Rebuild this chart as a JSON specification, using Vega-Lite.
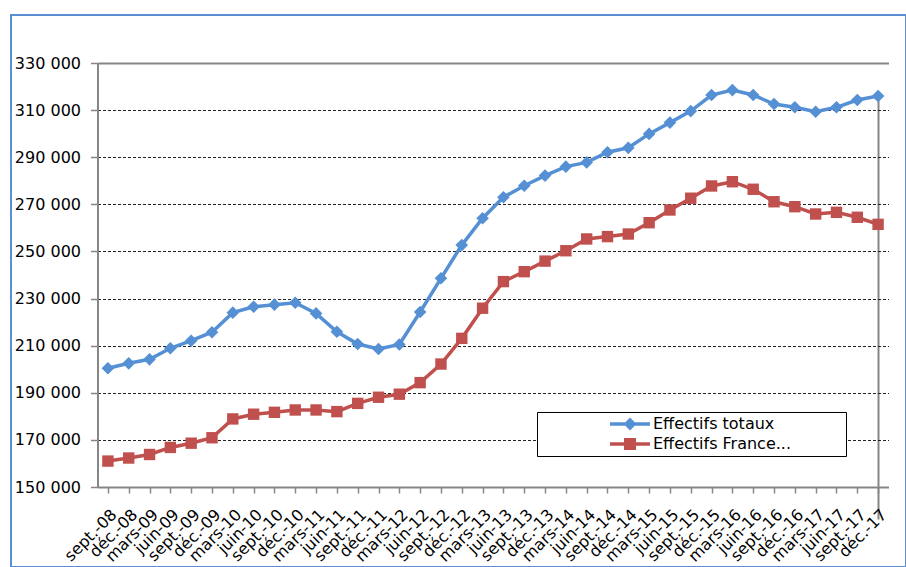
{
  "$schema": "https://vega.github.io/schema/vega-lite/v6.json",
  "autosize": {"type": "none"},
  "padding": {"left": 11, "top": 15, "right": 0, "bottom": 0},
  "width": 895,
  "height": 552,
  "background": "white",
  "config": {
    "font": "DejaVu Sans",
    "view": {"stroke": "#5B8FD5", "strokeWidth": 2}
  },
  "data": {
    "values": [
      {"mois": "sept.-08", "serie": "Effectifs totaux", "effectif": 200400},
      {"mois": "déc.-08", "serie": "Effectifs totaux", "effectif": 202500},
      {"mois": "mars-09", "serie": "Effectifs totaux", "effectif": 204200},
      {"mois": "juin-09", "serie": "Effectifs totaux", "effectif": 208900},
      {"mois": "sept.-09", "serie": "Effectifs totaux", "effectif": 212100},
      {"mois": "déc.-09", "serie": "Effectifs totaux", "effectif": 215700},
      {"mois": "mars-10", "serie": "Effectifs totaux", "effectif": 224000},
      {"mois": "juin-10", "serie": "Effectifs totaux", "effectif": 226500},
      {"mois": "sept.-10", "serie": "Effectifs totaux", "effectif": 227400},
      {"mois": "déc.-10", "serie": "Effectifs totaux", "effectif": 228200},
      {"mois": "mars-11", "serie": "Effectifs totaux", "effectif": 223700},
      {"mois": "juin-11", "serie": "Effectifs totaux", "effectif": 215900},
      {"mois": "sept.-11", "serie": "Effectifs totaux", "effectif": 210700},
      {"mois": "déc.-11", "serie": "Effectifs totaux", "effectif": 208600},
      {"mois": "mars-12", "serie": "Effectifs totaux", "effectif": 210500},
      {"mois": "juin-12", "serie": "Effectifs totaux", "effectif": 224300},
      {"mois": "sept.-12", "serie": "Effectifs totaux", "effectif": 238600},
      {"mois": "déc.-12", "serie": "Effectifs totaux", "effectif": 252700},
      {"mois": "mars-13", "serie": "Effectifs totaux", "effectif": 264100},
      {"mois": "juin-13", "serie": "Effectifs totaux", "effectif": 273000},
      {"mois": "sept.-13", "serie": "Effectifs totaux", "effectif": 277900},
      {"mois": "déc.-13", "serie": "Effectifs totaux", "effectif": 282200},
      {"mois": "mars-14", "serie": "Effectifs totaux", "effectif": 286000},
      {"mois": "juin-14", "serie": "Effectifs totaux", "effectif": 287800},
      {"mois": "sept.-14", "serie": "Effectifs totaux", "effectif": 292100},
      {"mois": "déc.-14", "serie": "Effectifs totaux", "effectif": 294000},
      {"mois": "mars-15", "serie": "Effectifs totaux", "effectif": 299900},
      {"mois": "juin-15", "serie": "Effectifs totaux", "effectif": 304700},
      {"mois": "sept.-15", "serie": "Effectifs totaux", "effectif": 309600},
      {"mois": "déc.-15", "serie": "Effectifs totaux", "effectif": 316400},
      {"mois": "mars-16", "serie": "Effectifs totaux", "effectif": 318500},
      {"mois": "juin-16", "serie": "Effectifs totaux", "effectif": 316400},
      {"mois": "sept.-16", "serie": "Effectifs totaux", "effectif": 312600},
      {"mois": "déc.-16", "serie": "Effectifs totaux", "effectif": 311200},
      {"mois": "mars-17", "serie": "Effectifs totaux", "effectif": 309300},
      {"mois": "juin-17", "serie": "Effectifs totaux", "effectif": 311200},
      {"mois": "sept.-17", "serie": "Effectifs totaux", "effectif": 314300},
      {"mois": "déc.-17", "serie": "Effectifs totaux", "effectif": 316000},
      {"mois": "sept.-08", "serie": "Effectifs France...", "effectif": 161000},
      {"mois": "déc.-08", "serie": "Effectifs France...", "effectif": 162300},
      {"mois": "mars-09", "serie": "Effectifs France...", "effectif": 163800},
      {"mois": "juin-09", "serie": "Effectifs France...", "effectif": 166800},
      {"mois": "sept.-09", "serie": "Effectifs France...", "effectif": 168600},
      {"mois": "déc.-09", "serie": "Effectifs France...", "effectif": 170900},
      {"mois": "mars-10", "serie": "Effectifs France...", "effectif": 178900},
      {"mois": "juin-10", "serie": "Effectifs France...", "effectif": 180900},
      {"mois": "sept.-10", "serie": "Effectifs France...", "effectif": 181700},
      {"mois": "déc.-10", "serie": "Effectifs France...", "effectif": 182700},
      {"mois": "mars-11", "serie": "Effectifs France...", "effectif": 182700},
      {"mois": "juin-11", "serie": "Effectifs France...", "effectif": 182000},
      {"mois": "sept.-11", "serie": "Effectifs France...", "effectif": 185500},
      {"mois": "déc.-11", "serie": "Effectifs France...", "effectif": 188100},
      {"mois": "mars-12", "serie": "Effectifs France...", "effectif": 189400},
      {"mois": "juin-12", "serie": "Effectifs France...", "effectif": 194300},
      {"mois": "sept.-12", "serie": "Effectifs France...", "effectif": 202200},
      {"mois": "déc.-12", "serie": "Effectifs France...", "effectif": 213100},
      {"mois": "mars-13", "serie": "Effectifs France...", "effectif": 225900},
      {"mois": "juin-13", "serie": "Effectifs France...", "effectif": 237200},
      {"mois": "sept.-13", "serie": "Effectifs France...", "effectif": 241400},
      {"mois": "déc.-13", "serie": "Effectifs France...", "effectif": 245900},
      {"mois": "mars-14", "serie": "Effectifs France...", "effectif": 250300},
      {"mois": "juin-14", "serie": "Effectifs France...", "effectif": 255300},
      {"mois": "sept.-14", "serie": "Effectifs France...", "effectif": 256300},
      {"mois": "déc.-14", "serie": "Effectifs France...", "effectif": 257400},
      {"mois": "mars-15", "serie": "Effectifs France...", "effectif": 262200},
      {"mois": "juin-15", "serie": "Effectifs France...", "effectif": 267600},
      {"mois": "sept.-15", "serie": "Effectifs France...", "effectif": 272600},
      {"mois": "déc.-15", "serie": "Effectifs France...", "effectif": 277800},
      {"mois": "mars-16", "serie": "Effectifs France...", "effectif": 279600},
      {"mois": "juin-16", "serie": "Effectifs France...", "effectif": 276400},
      {"mois": "sept.-16", "serie": "Effectifs France...", "effectif": 271100},
      {"mois": "déc.-16", "serie": "Effectifs France...", "effectif": 269000},
      {"mois": "mars-17", "serie": "Effectifs France...", "effectif": 265900},
      {"mois": "juin-17", "serie": "Effectifs France...", "effectif": 266600},
      {"mois": "sept.-17", "serie": "Effectifs France...", "effectif": 264500},
      {"mois": "déc.-17", "serie": "Effectifs France...", "effectif": 261500}
    ]
  },
  "encoding": {
    "x": {
      "field": "mois",
      "type": "ordinal",
      "scale": {
        "type": "point",
        "domain": ["sept.-08", "déc.-08", "mars-09", "juin-09", "sept.-09", "déc.-09", "mars-10", "juin-10", "sept.-10", "déc.-10", "mars-11", "juin-11", "sept.-11", "déc.-11", "mars-12", "juin-12", "sept.-12", "déc.-12", "mars-13", "juin-13", "sept.-13", "déc.-13", "mars-14", "juin-14", "sept.-14", "déc.-14", "mars-15", "juin-15", "sept.-15", "déc.-15", "mars-16", "juin-16", "sept.-16", "déc.-16", "mars-17", "juin-17", "sept.-17", "déc.-17"],
        "range": [86.5, 877.5]
      },
      "axis": {
        "title": null,
        "offset": -80,
        "domainColor": "#868686",
        "domainWidth": 2,
        "tickColor": "#868686",
        "tickWidth": 1.5,
        "tickSize": 6,
        "labelAngle": -45,
        "labelAlign": "right",
        "labelBaseline": "top",
        "labelOverlap": false,
        "labelFont": "DejaVu Sans",
        "labelFontSize": 16,
        "labelColor": "black",
        "labelPadding": 13,
        "grid": true,
        "gridColor": "#868686",
        "gridWidth": 2,
        "gridOpacity": {"condition": {"test": "datum.value === 'déc.-17'", "value": 1}, "value": 0}
      }
    },
    "y": {
      "field": "effectif",
      "type": "quantitative",
      "scale": {"domain": [150000, 330000], "range": [472, 48], "nice": false, "zero": false},
      "axis": {
        "title": null,
        "offset": -86.5,
        "values": [150000, 170000, 190000, 210000, 230000, 250000, 270000, 290000, 310000, 330000],
        "labelExpr": "replace(format(datum.value, ',d'), ',', ' ')",
        "domainColor": "#868686",
        "domainWidth": 2,
        "tickColor": "#868686",
        "tickWidth": 1.5,
        "tickSize": 7,
        "labelPadding": 10,
        "labelFont": "DejaVu Sans",
        "labelFontSize": 16,
        "labelColor": "black",
        "grid": true,
        "gridColor": {"condition": {"test": "datum.value === 330000", "value": "#868686"}, "value": "#222222"},
        "gridWidth": {"condition": {"test": "datum.value === 330000", "value": 2}, "value": 1},
        "gridDash": {"condition": {"test": "datum.value === 330000", "value": []}, "value": [3, 2]},
        "gridOpacity": {"condition": {"test": "datum.value === 150000", "value": 0}, "value": 1}
      }
    }
  },
  "layer": [
    {
      "mark": {"type": "line", "strokeWidth": 3.5},
      "encoding": {
        "color": {
          "field": "serie",
          "type": "nominal",
          "scale": {"domain": ["Effectifs totaux", "Effectifs France..."], "range": ["#5590D5", "#C0504D"]},
          "legend": {
            "title": null,
            "orient": "none",
            "legendX": 526,
            "legendY": 397,
            "padding": 4,
            "fillColor": "white",
            "strokeColor": "black",
            "symbolSize": 144,
            "symbolOffset": 81,
            "labelOffset": 15,
            "rowPadding": 4,
            "labelFontSize": 16,
            "labelColor": "black",
            "labelLimit": 400,
            "labelExpr": "datum.label + '\u00a0\u00a0\u00a0\u00a0\u00a0\u00a0\u00a0\u00a0\u00a0\u00a0\u200b'",
            "encode": {
              "symbols": {
                "update": {
                  "shape": {"signal": "datum.value === 'Effectifs totaux' ? 'M-3.33,-0.3H-0.78L0,-1.08L0.78,-0.3H3.33V0.3H0.78L0,1.08L-0.78,0.3H-3.33Z' : 'M-3.33,-0.3H-1V-1H1V-0.3H3.33V0.3H1V1H-1V0.3H-3.33Z'"},
                  "fill": {"signal": "datum.value === 'Effectifs totaux' ? '#5590D5' : '#C0504D'"},
                  "stroke": {"value": "transparent"},
                  "strokeWidth": {"value": 0}
                }
              }
            }
          }
        }
      }
    },
    {
      "transform": [{"filter": "datum.serie === 'Effectifs totaux'"}],
      "mark": {"type": "point", "shape": "diamond", "filled": true, "size": 160, "color": "#5590D5", "opacity": 1}
    },
    {
      "transform": [{"filter": "datum.serie === 'Effectifs France...'"}],
      "mark": {"type": "point", "shape": "square", "filled": true, "size": 130, "color": "#C0504D", "opacity": 1}
    }
  ]
}
